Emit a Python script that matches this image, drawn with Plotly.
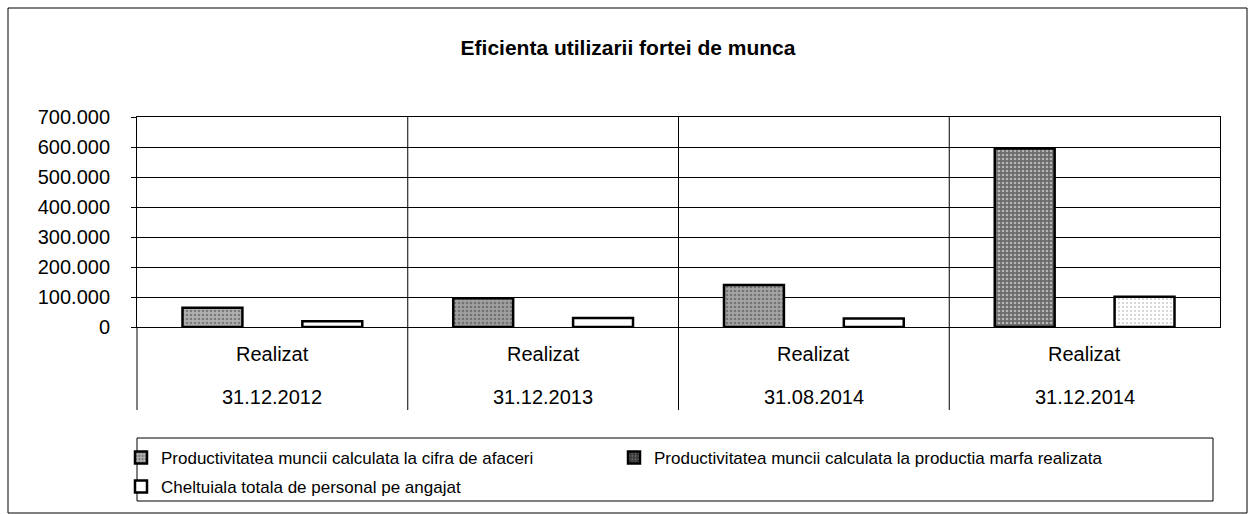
import plotly.graph_objects as go

# ---------------- data ----------------
dates = ["31.12.2012", "31.12.2013", "31.08.2014", "31.12.2014"]
row_label = "Realizat"
series_names = [
    "Productivitatea muncii calculata la cifra de afaceri",
    "Productivitatea muncii calculata la productia marfa realizata",
    "Cheltuiala totala de personal pe angajat",
]
cifra_afaceri = [64000, 96000, 140000, 595000]
productia_marfa = [None, None, None, None]
cheltuiala_personal = [19000, 30000, 28000, 101000]
y_ticks = [0, 100000, 200000, 300000, 400000, 500000, 600000, 700000]
title_text = "Eficienta utilizarii fortei de munca"

# ---------------- geometry helpers (pixels -> paper) ----------------
W, H = 1249, 514
PL, PR, PT, PB = 137, 1220, 117, 327
pw, ph = PR - PL, PB - PT


def px(x):
    return (x - PL) / pw


def py(y):
    return (PB - y) / ph


FONT = "Arial, 'Liberation Sans', sans-serif"

fig = go.Figure()

fig.add_trace(go.Bar(
    x=dates, y=cifra_afaceri, name=series_names[0], legend="legend",
    marker=dict(
        color=["#b0b0b0", "#a0a0a0", "#a4a4a4", "#6a6a6a"],
        line=dict(color="black", width=2.5),
        pattern=dict(shape=".", fgcolor="#333333", size=4, solidity=0.35, fillmode="overlay"),
    ),
))
fig.add_trace(go.Bar(
    x=dates, y=productia_marfa, name=series_names[1], legend="legend",
    marker=dict(
        color="#3c3c3c",
        line=dict(color="black", width=2.5),
        pattern=dict(shape=".", fgcolor="#bbbbbb", size=4, solidity=0.2, fillmode="overlay"),
    ),
))
fig.add_trace(go.Bar(
    x=dates, y=cheltuiala_personal, name=series_names[2], legend="legend2",
    marker=dict(
        color="white",
        line=dict(color="black", width=2.5),
        pattern=dict(shape=["", "", "", "."], fgcolor="#999999", size=4, solidity=0.2, fillmode="overlay"),
    ),
))

shapes = []
# category separators extending below the plot
for b in [0.5, 1.5, 2.5]:
    shapes.append(dict(type="line", xref="x", yref="paper", x0=b, x1=b,
                       y0=py(410), y1=1, line=dict(color="black", width=1)))
# left axis extension
shapes.append(dict(type="line", xref="paper", yref="paper", x0=0, x1=0,
                   y0=py(410), y1=0, line=dict(color="black", width=1)))
# legend box
shapes.append(dict(type="rect", xref="paper", yref="paper", x0=px(137), x1=px(1213),
                   y0=py(501), y1=py(438), line=dict(color="black", width=1)))
# outer chart border
shapes.append(dict(type="rect", xref="paper", yref="paper", x0=px(8), x1=px(1247),
                   y0=py(513), y1=py(8), line=dict(color="black", width=1)))

annotations = []
for d in dates:
    annotations.append(dict(x=d, xref="x", y=py(354), yref="paper", text=row_label,
                            showarrow=False, font=dict(size=20, color="black", family=FONT),
                            xanchor="center", yanchor="middle"))
    annotations.append(dict(x=d, xref="x", y=py(397), yref="paper", text=d,
                            showarrow=False, font=dict(size=20, color="black", family=FONT),
                            xanchor="center", yanchor="middle"))

fig.update_layout(
    width=W, height=H, autosize=False,
    margin=dict(l=PL, r=W - PR, t=PT, b=H - PB, pad=0, autoexpand=False),
    paper_bgcolor="white", plot_bgcolor="white",
    font=dict(family=FONT, color="black", size=16),
    separators=",.",
    barmode="group", bargap=0.336, bargroupgap=0,
    title=dict(text="<b>" + title_text + "</b>", x=628 / W, xref="container",
               y=1 - 48 / H, yref="container", xanchor="center", yanchor="middle",
               font=dict(size=21, family=FONT, color="black")),
    xaxis=dict(type="category", range=[-0.5, 3.5], showticklabels=False, ticks="",
               showgrid=False, showline=True, linecolor="black", linewidth=1, mirror=True,
               zeroline=False, fixedrange=True, automargin=False),
    yaxis=dict(range=[0, 700000], tickvals=y_ticks, tickformat=",d",
               showgrid=True, gridcolor="black", gridwidth=1,
               showline=True, linecolor="black", linewidth=1, mirror=True,
               ticks="outside", ticklen=5, tickcolor="black", ticklabelstandoff=17,
               tickfont=dict(size=20, family=FONT, color="black"), zeroline=False,
               automargin=False),
    legend=dict(orientation="h", x=px(121), y=py(440), xanchor="left", yanchor="top",
                bgcolor="rgba(0,0,0,0)", borderwidth=0, entrywidth=448,
                entrywidthmode="pixels", font=dict(size=17, family=FONT, color="black"),
                traceorder="normal"),
    legend2=dict(orientation="h", x=px(121), y=py(469), xanchor="left", yanchor="top",
                 bgcolor="rgba(0,0,0,0)", borderwidth=0,
                 font=dict(size=17, family=FONT, color="black")),
    shapes=shapes,
    annotations=annotations,
    showlegend=True,
)

post = (
    "document.documentElement.style.margin='0';"
    "document.body.style.margin='0';"
)
fig.write_html("out.html", config={"displayModeBar": False}, post_script=post)
